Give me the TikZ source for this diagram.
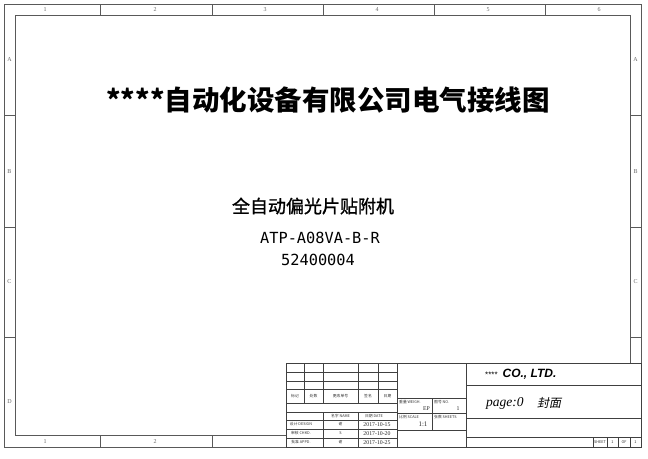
\documentclass[tikz,border=0pt]{standalone}
\usepackage{fontspec}
\newfontfamily\cjk{Noto Sans CJK SC}
\newfontfamily\cjkheavy[FakeBold=1.2]{Noto Sans CJK SC}
\newfontfamily\cjkslant[FakeSlant=0.2]{Noto Sans CJK SC}
\newfontfamily\sansfont{Liberation Sans}
\newfontfamily\seriffont{Liberation Serif}
\newfontfamily\partfont{DejaVu Sans Mono}
\tikzset{
	frameline/.style={draw=black!65, line width=0.6pt},
	gridline/.style={draw=black!75, line width=0.4pt},
	zonelabel/.style={font=\seriffont\fontsize{6}{6}\selectfont, text=black!60, inner sep=0pt},
	tinylabel/.style={font=\cjk\fontsize{3.8}{4}\selectfont, text=black!80, inner sep=0pt},
	datelabel/.style={font=\seriffont\fontsize{5.8}{6}\selectfont, text=black!85, inner sep=0pt},
}
\begin{document}
\begin{tikzpicture}[x=1pt, y=-1pt]
	\useasboundingbox (0,0) rectangle (648,458);
	% sheet frames
	\draw[frameline, line width=0.9pt] (4,4) rectangle (641,447);
	\draw[frameline] (286,435) -- (15,435) -- (15,15) -- (630,15) -- (630,363);
	% zone dividers
	\foreach \x in {100,212,323,434,545}
	{
		\draw[frameline] (\x,4) -- (\x,15);
	}
	\foreach \x in {100,212}
	{
		\draw[frameline] (\x,435) -- (\x,447);
	}
	\foreach \y in {115,227,337}
	{
		\draw[frameline] (4,\y) -- (15,\y);
		\draw[frameline] (630,\y) -- (641,\y);
	}
	% zone labels
	\def\columns {45,155,265,377,488,599};
	\def\rows {A/60,B/172,C/282,D/402};
	\foreach \xpos [count=\index] in \columns
	{
		\node[zonelabel] (top_\index) at (\xpos,9.8) {\index};
	}
	\foreach \xpos [count=\index] in {45,155}
	{
		\node[zonelabel] (bottom_\index) at (\xpos,441.5) {\index};
	}
	\foreach \letter/\ypos in \rows
	{
		\node[zonelabel] (left_\letter) at (9.5,\ypos) {\letter};
	}
	\foreach \letter/\ypos in {A/60,B/172,C/282}
	{
		\node[zonelabel] (right_\letter) at (635.5,\ypos) {\letter};
	}
	% sheet titles
	\node[font=\cjk\bfseries\fontsize{27.5}{30}\selectfont] (title) at (328,100) {****自动化设备有限公司电气接线图};
	\node[font=\cjkheavy\fontsize{18}{20}\selectfont] (machine) at (313,206) {全自动偏光片贴附机};
	\node[font=\partfont\fontsize{15.3}{17}\selectfont] (model) at (320,238) {ATP-A08VA-B-R};
	\node[font=\partfont\fontsize{15.3}{17}\selectfont] (number) at (318,260) {52400004};
	% title block, revision part
	\draw[gridline] (286,363) rectangle (641,447);
	\foreach \x in {304,323,358,378}
	{
		\draw[gridline] (\x,363) -- (\x,403);
	}
	\foreach \y in {372,381,389,403,412,420,429,438}
	{
		\draw[gridline] (286,\y) -- (397,\y);
	}
	\foreach \x in {323,358}
	{
		\draw[gridline] (\x,412) -- (\x,447);
	}
	\draw[gridline] (397,363) -- (397,447);
	\foreach \text/\xpos [count=\index] in {标记/295,处数/313.5,更改单号/340.5,签名/368,日期/387.5}
	{
		\node[tinylabel] (revision_\index) at (\xpos,396) {\text};
	}
	\node[tinylabel] (name_head) at (340.5,416) {名字 NAME};
	\node[tinylabel] (date_head) at (374,416) {日期 DATE};
	\foreach \role/\who/\date/\ypos [count=\index] in {设计 DESIGN/谢/2017-10-15/424.5,审核 CHKD./S/2017-10-20/433.5,批准 APPD./谢/2017-10-25/442.5}
	{
		\node[tinylabel] (role_\index) at (301,\ypos) {\role};
		\node[tinylabel] (who_\index) at (340.5,\ypos) {\who};
		\node[datelabel] (date_\index) at (377,\ypos) {\date};
	}
	% title block, drawing data
	\draw[gridline] (466,363) -- (466,447);
	\foreach \y in {398,413,430}
	{
		\draw[gridline] (397,\y) -- (466,\y);
	}
	\draw[gridline] (432,398) -- (432,430);
	\node[tinylabel, anchor=west] (weight_head) at (399,402) {重量 WEIGH.};
	\node[datelabel, anchor=east] (weight) at (430,408.5) {EP};
	\node[tinylabel, anchor=west] (drawing_head) at (434,402) {图号 NO.};
	\node[datelabel] (drawing) at (458,409) {1};
	\node[tinylabel, anchor=west] (scale_head) at (399,417) {比例 SCALE};
	\node[datelabel, font=\seriffont\fontsize{7}{7}\selectfont] (scale) at (423,424.5) {1:1};
	\node[tinylabel, anchor=west] (sheets_head) at (434,417) {张数 SHEETS};
	% title block, company part
	\foreach \y in {385,418,437}
	{
		\draw[gridline] (466,\y) -- (641,\y);
	}
	\node[anchor=west, inner sep=0pt] (company) at (485,374)
		{\sansfont\fontsize{8}{8}\selectfont ****\hspace{5pt}\bfseries\itshape\fontsize{12}{12}\selectfont CO., LTD.};
	\node[anchor=west, inner sep=0pt, font=\seriffont\itshape\fontsize{13.5}{13.5}\selectfont] (page) at (486,403) {page:0};
	\node[anchor=west, inner sep=0pt, font=\cjkslant\fontsize{12}{12}\selectfont] (cover) at (537,403) {封面};
	\foreach \x in {593,607,618,630}
	{
		\draw[gridline] (\x,437) -- (\x,447);
	}
	\foreach \text/\xpos [count=\index] in {SHEET/600,1/612.5,OF/624,1/635.5}
	{
		\node[tinylabel] (sheet_\index) at (\xpos,442) {\text};
	}
\end{tikzpicture}
\end{document}
